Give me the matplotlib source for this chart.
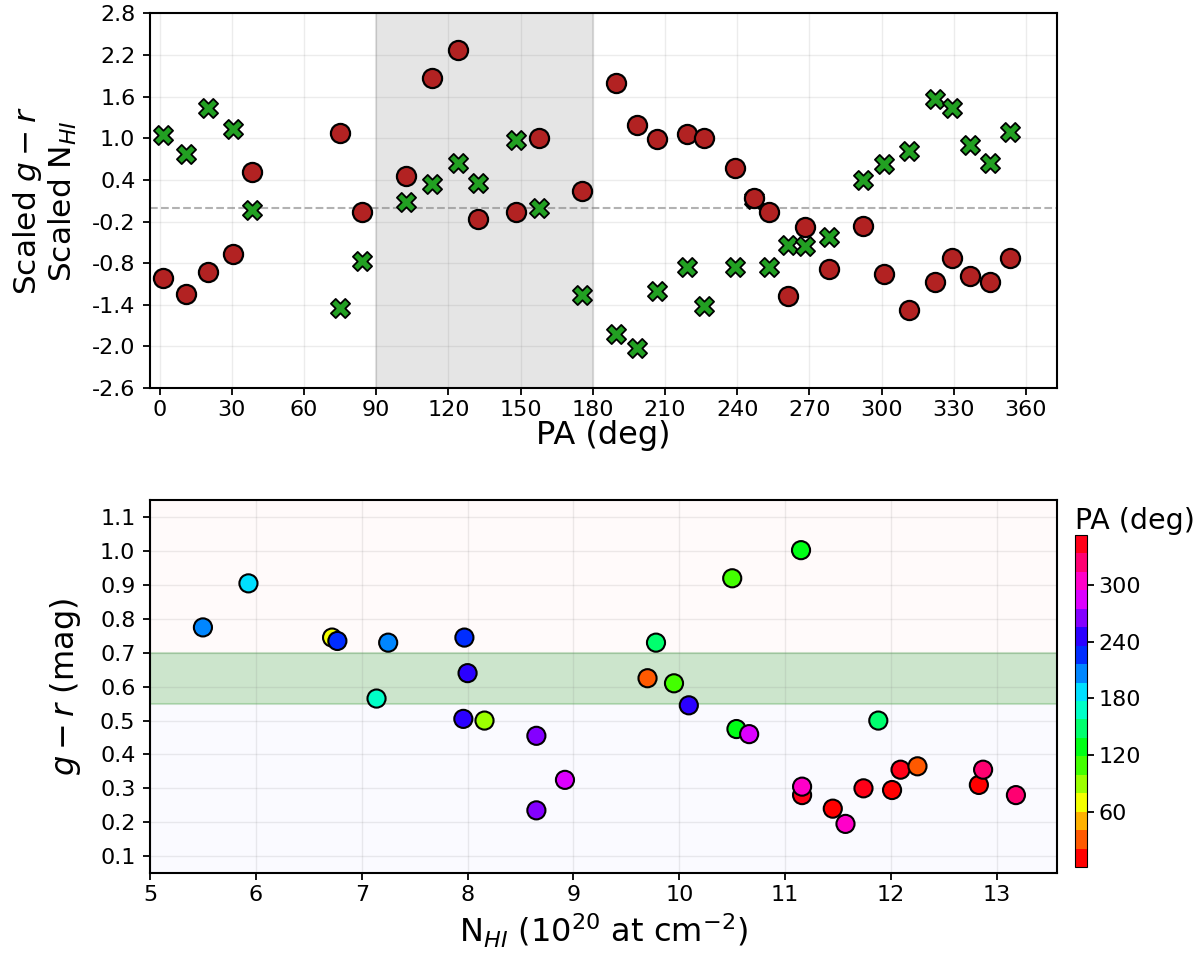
import numpy as np
import matplotlib
matplotlib.use("Agg")
import matplotlib.pyplot as plt
from matplotlib.colors import Normalize

# ---- Top panel: scaled quantities vs position angle ----
pa_top = [1.3, 10.85, 19.9, 30.3, 38.5, 75.0, 84.3, 102.3, 113.1, 124.1, 132.3,
          148.1, 157.5, 175.4, 189.5, 198.3, 206.6, 219.3, 226.3, 238.9, 247.2,
          253.2, 261.2, 268.4, 278.1, 292.2, 300.9, 311.3, 322.1, 329.3, 336.8,
          344.9, 353.2]
gr_scaled = [-1.01, -1.25, -0.93, -0.67, 0.52, 1.07, -0.06, 0.45, 1.87, 2.27, -0.17,
             -0.06, 1.00, 0.24, 1.79, 1.19, 0.99, 1.06, 1.00, 0.57, 0.14,
             -0.06, -1.28, -0.28, -0.88, -0.26, -0.96, -1.47, -1.07, -0.73, -0.98,
             -1.07, -0.73]
nhi_scaled = [1.05, 0.77, 1.44, 1.14, -0.04, -1.44, -0.77, 0.08, 0.34, 0.64, 0.36,
              0.98, 0.00, -1.26, -1.82, -2.03, -1.20, -0.86, -1.42, -0.86, 0.13,
              -0.86, -0.54, -0.56, -0.43, 0.40, 0.63, 0.82, 1.57, 1.43, 0.90,
              0.64, 1.09]

# ---- Bottom panel: g-r vs N_HI coloured by PA ----
nhi = [5.50, 5.93, 6.72, 6.77, 7.14, 7.25, 7.97, 8.00, 7.96, 8.16, 8.65, 8.92, 8.65,
       9.70, 9.78, 9.95, 10.09, 10.50, 10.54, 10.66, 11.15, 11.88, 11.16, 11.16,
       11.45, 11.57, 11.74, 12.01, 12.09, 12.25, 12.83, 12.87, 13.18]
gr = [0.775, 0.905, 0.745, 0.735, 0.565, 0.730, 0.745, 0.640, 0.505, 0.500, 0.455,
      0.325, 0.235, 0.625, 0.730, 0.610, 0.545, 0.920, 0.475, 0.460, 1.003, 0.500,
      0.280, 0.305, 0.240, 0.195, 0.300, 0.295, 0.355, 0.365, 0.310, 0.355, 0.280]
pa_bottom = [198.3, 189.5, 75.0, 226.3, 175.4, 206.6, 219.3, 238.9, 253.2, 84.3, 268.4,
             278.1, 261.2, 38.5, 157.5, 102.3, 247.2, 113.1, 132.3, 292.2, 124.1, 148.1,
             344.9, 300.9, 10.85, 311.3, 336.8, 1.3, 353.2, 30.3, 19.9, 329.3, 322.1]

top_yticks = [-2.6, -2.0, -1.4, -0.8, -0.2, 0.4, 1.0, 1.6, 2.2, 2.8]
top_xticks = [0, 30, 60, 90, 120, 150, 180, 210, 240, 270, 300, 330, 360]
bot_yticks = [0.1, 0.2, 0.3, 0.4, 0.5, 0.6, 0.7, 0.8, 0.9, 1.0, 1.1]
bot_xticks = [5, 6, 7, 8, 9, 10, 11, 12, 13]
cbar_ticks = [60, 120, 180, 240, 300]

TICK = 16
LAB = 23

fig = plt.figure(figsize=(12, 9.58), dpi=100)

# ---------------- top panel ----------------
ax1 = fig.add_axes([0.125, 0.595, 0.756, 0.391])
ax1.axvspan(90, 180, color="gray", alpha=0.2, lw=1.5, zorder=0)
ax1.axhline(0, color="gray", ls="--", lw=1.5, alpha=0.6, zorder=1)
ax1.scatter(pa_top, nhi_scaled, s=190, marker="X", c="#22a022",
            edgecolors="black", linewidths=1.3, zorder=3)
ax1.scatter(pa_top, gr_scaled, s=190, marker="o", c="#b22222",
            edgecolors="black", linewidths=1.6, zorder=4)
ax1.set_xlim(-4, 373)
ax1.set_ylim(-2.6, 2.8)
ax1.set_xticks(top_xticks)
ax1.set_yticks(top_yticks)
ax1.set_yticklabels([f"{v:.1f}" for v in top_yticks])
ax1.grid(True, color="gray", alpha=0.15, lw=1)
ax1.set_axisbelow(True)
ax1.tick_params(labelsize=TICK, width=1.3, length=5)
ax1.tick_params(axis="y", pad=5.5)
ax1.set_xlabel("PA (deg)", fontsize=LAB, labelpad=0)
ax1.set_ylabel("Scaled $g-r$\nScaled N$_{HI}$", fontsize=22.5, labelpad=9,
               linespacing=1.15)
for sp in ax1.spines.values():
    sp.set_linewidth(1.5)

# ---------------- bottom panel ----------------
ax2 = fig.add_axes([0.125, 0.0887, 0.756, 0.389])
ax2.axhspan(0.7, 1.15, color="red", alpha=0.02, lw=0, zorder=0)
ax2.axhspan(0.55, 0.7, color="green", alpha=0.2, lw=1.5, zorder=0)
ax2.axhspan(0.05, 0.55, color="blue", alpha=0.02, lw=0, zorder=0)
cmap = plt.get_cmap("hsv", 18)
norm = Normalize(vmin=min(pa_bottom), vmax=max(pa_bottom))
sc = ax2.scatter(nhi, gr, c=pa_bottom, cmap=cmap, norm=norm, s=170,
                 edgecolors="black", linewidths=1.5, zorder=3)
ax2.set_xlim(5, 13.57)
ax2.set_ylim(0.05, 1.15)
ax2.set_xticks(bot_xticks)
ax2.set_yticks(bot_yticks)
ax2.set_yticklabels([f"{v:.1f}" for v in bot_yticks])
ax2.grid(True, color="gray", alpha=0.15, lw=1)
ax2.set_axisbelow(True)
ax2.tick_params(labelsize=TICK, width=1.3, length=5)
ax2.tick_params(axis="y", pad=5.5)
ax2.set_xlabel("N$_{HI}$ (10$^{20}$ at cm$^{-2}$)", fontsize=LAB, labelpad=5)
ax2.set_ylabel("$g-r$ (mag)", fontsize=LAB, labelpad=12)
for sp in ax2.spines.values():
    sp.set_linewidth(1.5)

cax = fig.add_axes([0.896, 0.095, 0.0095, 0.3466])
cb = fig.colorbar(sc, cax=cax, ticks=cbar_ticks)
cb.ax.tick_params(labelsize=TICK, width=1.3, length=5)
cb.ax.set_title("PA (deg)", fontsize=20.5, loc="left", pad=3)

fig.savefig("out.png", dpi=100)
